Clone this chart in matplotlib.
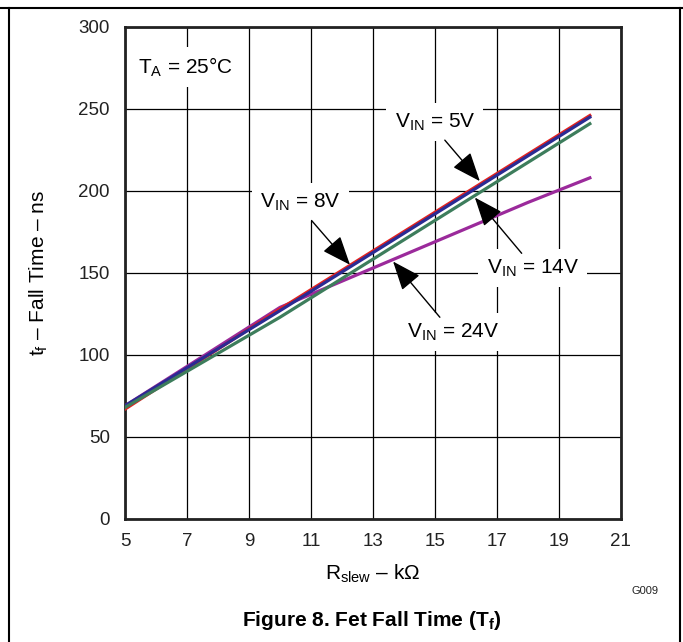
import matplotlib.pyplot as plt
from matplotlib.lines import Line2D

plt.rcParams['font.family'] = ['Liberation Sans', 'DejaVu Sans']
plt.rcParams['mathtext.fontset'] = 'custom'
plt.rcParams['mathtext.rm'] = 'Liberation Sans'
plt.rcParams['mathtext.it'] = 'Liberation Sans'
plt.rcParams['mathtext.bf'] = 'Liberation Sans:bold'

# данные
r_lin = [5, 10, 15, 20]
tf_5v = [69, 127, 186, 245]
tf_8v = [67, 128, 187, 246]
tf_14v = [68, 123, 182, 241]
r_24v = [5, 7, 9, 10, 11, 12, 14, 16, 18, 20]
tf_24v = [69, 93, 117, 129, 137, 145, 161, 177, 193, 208]

x_ticks = [5, 7, 9, 11, 13, 15, 17, 19, 21]
y_ticks = [0, 50, 100, 150, 200, 250, 300]

fig = plt.figure(figsize=(6.83, 6.42), dpi=100)
ax = fig.add_axes([0.183, 0.1916, 0.726, 0.7664])

ax.plot(r_24v, tf_24v, color='#9b2a9b', lw=2.3, zorder=3)
ax.plot(r_lin, tf_8v, color='#e3221f', lw=2.3, zorder=3)
ax.plot(r_lin, tf_5v, color='#2b2b93', lw=2.3, zorder=4)
ax.plot(r_lin, tf_14v, color='#3d7d5c', lw=2.3, zorder=4)

ax.set_xlim(5, 21)
ax.set_ylim(0, 300)
ax.set_xticks(x_ticks)
ax.set_yticks(y_ticks)
ax.tick_params(length=0, labelsize=13.5, colors='#222222')
ax.tick_params(axis='x', pad=10)
ax.tick_params(axis='y', pad=11)
ax.grid(True, color='black', lw=0.9)
for s in ax.spines.values():
    s.set_linewidth(2)
    s.set_color('#222222')

ax.set_xlabel(r'$\mathregular{R_{slew}}$ – kΩ', fontsize=15, labelpad=9)
ax.set_ylabel(r'$\mathregular{t_f}$ – Fall Time – ns', fontsize=15, labelpad=20)

box = dict(facecolor='white', edgecolor='none', pad=6)
ax.text(6.94, 275.6, r'$\mathregular{T_A}$ = 25°C', fontsize=15, ha='center', va='center', bbox=box, zorder=5)

labels = [
    (r'$\mathregular{V_{IN}}$ = 5V', (15.0, 242), (15.32, 231), (16.45, 206)),
    (r'$\mathregular{V_{IN}}$ = 8V', (10.65, 193), (11.02, 182), (12.26, 155)),
    (r'$\mathregular{V_{IN}}$ = 14V', (18.16, 153), (17.8, 162), (16.29, 196)),
    (r'$\mathregular{V_{IN}}$ = 24V', (15.6, 114), (15.16, 123), (13.65, 157)),
]
for txt, pos, tail, tip in labels:
    ax.text(pos[0], pos[1], txt, fontsize=15, ha='center', va='center', bbox=box, zorder=5)
    ax.annotate('', xy=tip, xytext=tail, zorder=6,
                arrowprops=dict(arrowstyle='-|>,head_length=1.0,head_width=0.4',
                                color='black', lw=1, mutation_scale=18,
                                shrinkA=0, shrinkB=0))

fig.text(0.945, 0.08, 'G009', fontsize=8, ha='center', va='center', color='#222222')
fig.text(0.545, 0.033, r'Figure 8. Fet Fall Time ($\mathbf{T_f}$)', fontsize=15,
         fontweight='bold', ha='center', va='center')

# рамка вокруг рисунка
fig.add_artist(Line2D([0, 1], [0.9875, 0.9875], transform=fig.transFigure, color='black', lw=1.5))
fig.add_artist(Line2D([0.0135, 0.0135], [0, 0.9875], transform=fig.transFigure, color='black', lw=1.5))
fig.add_artist(Line2D([0.9955, 0.9955], [0, 0.9875], transform=fig.transFigure, color='black', lw=1.5))

fig.savefig('out.png', dpi=100)
